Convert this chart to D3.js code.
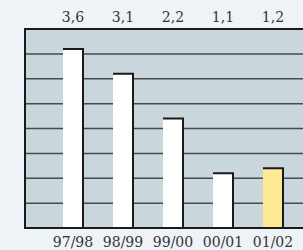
<!DOCTYPE html>
<html>
    <head>
        <script src="https://d3js.org/d3.v7.js"></script>
        <style>
            body{
                margin: 0;
                background-color: #edf3f7;
            }
        </style>
    </head>
    <body>
        <div class='graph'></div>
        <script>
            const w = 303
            const h = 250

            const seasons = ['97/98', '98/99', '99/00', '00/01', '01/02']
            const values = [3.6, 3.1, 2.2, 1.1, 1.2]
            const valueLabels = ['3,6', '3,1', '2,2', '1,1', '1,2']
            const gridTicks = [0.5, 1, 1.5, 2, 2.5, 3, 3.5, 4]

            const fontFamily = '"DejaVu Serif", serif'

            const svg = d3.select('.graph')
                    .append('svg')
                    .attr('width', w)
                    .attr('height', h)
                    .style('display', 'block')

            const plotLeft = 25
            const plotTop = 29
            const plotBottom = 228

            const x = d3.scaleBand()
                        .domain(seasons)
                        .range([48, 298])
                        .paddingInner(0.6)
                        .paddingOuter(0.3)

            const y = d3.scaleLinear()
                        .domain([0, 4])
                        .range([plotBottom, plotTop])

            // plot background
            svg.append('rect')
                .attr('x', plotLeft)
                .attr('y', plotTop)
                .attr('width', w - plotLeft + 5)
                .attr('height', plotBottom - plotTop)
                .style('fill', '#c9d6dc')

            // grid lines
            svg.selectAll('.grid')
                .data(gridTicks)
                .enter()
                .append('line')
                .attr('x1', plotLeft)
                .attr('x2', w)
                .attr('y1', d => y(d))
                .attr('y2', d => y(d))
                .style('stroke', d => d === 4 ? '#1a1a1a' : '#4a4a4a')
                .style('stroke-width', d => d === 4 ? 2 : 1.5)

            // bars
            const bar = svg.selectAll('.bar')
                            .data(values)
                            .enter()
                            .append('g')

            bar.append('rect')
                .attr('x', (d, i) => x(seasons[i]))
                .attr('y', d => y(d))
                .attr('width', x.bandwidth())
                .attr('height', d => plotBottom - y(d))
                .style('fill', (d, i) => i === 4 ? '#fde993' : '#ffffff')

            bar.append('path')
                .attr('d', (d, i) => {
                    const x0 = x(seasons[i]), x1 = x0 + x.bandwidth()
                    return 'M' + x0 + ',' + y(d) + 'H' + x1 + 'V' + plotBottom
                })
                .style('fill', 'none')
                .style('stroke', '#1a1a1a')
                .style('stroke-width', 2)

            // axes frame
            svg.append('path')
                .attr('d', 'M' + (w + 2) + ',' + plotBottom + 'H' + plotLeft + 'V' + plotTop + 'H' + (w + 2))
                .style('fill', 'none')
                .style('stroke', '#1a1a1a')
                .style('stroke-width', 2)

            // value labels
            svg.selectAll('.val')
                .data(valueLabels)
                .enter()
                .append('text')
                .attr('x', (d, i) => x(seasons[i]) + x.bandwidth() / 2)
                .attr('y', 22)
                .attr('text-anchor', 'middle')
                .style('font-family', fontFamily)
                .style('font-size', '14px')
                .style('fill', '#333')
                .text(d => d)

            // category labels
            svg.selectAll('.cat')
                .data(seasons)
                .enter()
                .append('text')
                .attr('x', d => x(d) + x.bandwidth() / 2)
                .attr('y', 247)
                .attr('text-anchor', 'middle')
                .style('font-family', fontFamily)
                .style('font-size', '14px')
                .style('fill', '#333')
                .text(d => d)
        </script>
    </body>
</html>
